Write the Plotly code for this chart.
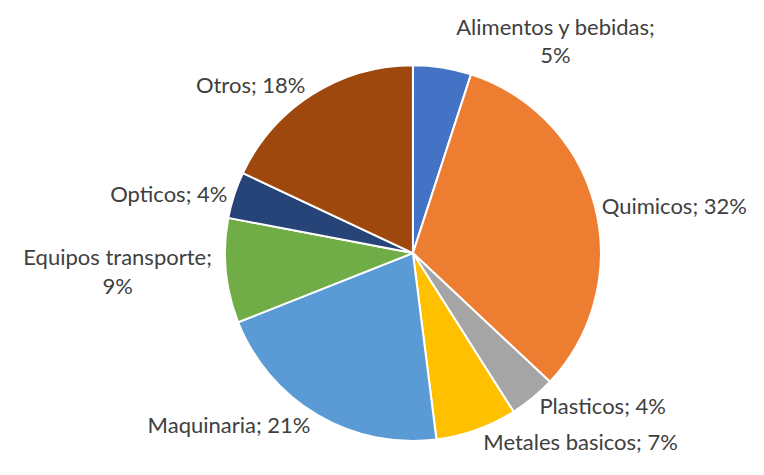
import plotly.graph_objects as go

categories = ["Alimentos y bebidas", "Quimicos", "Plasticos", "Metales basicos",
              "Maquinaria", "Equipos transporte", "Opticos", "Otros"]
values = [5, 32, 4, 7, 21, 9, 4, 18]
colors = ["#4472C4", "#ED7D31", "#A5A5A5", "#FFC000",
          "#5B9BD5", "#70AD47", "#264478", "#9E480E"]
wrap = [True, False, False, False, False, True, False, False]

texts = [f"{c};<br>{v}%" if w else f"{c}; {v}%" for c, v, w in zip(categories, values, wrap)]

fig = go.Figure(go.Pie(
    labels=categories,
    values=values,
    text=texts,
    textinfo="text",
    textposition="outside",
    sort=False,
    direction="clockwise",
    rotation=0,
    marker=dict(colors=colors, line=dict(color="white", width=2)),
    outsidetextfont=dict(family="Lato, Liberation Sans, sans-serif", size=22, color="#404040"),
    domain=dict(x=[0.284, 0.776], y=[0.088, 0.880]),
    showlegend=False,
    hoverinfo="label+percent",
))

fig.update_layout(
    width=764, height=475,
    margin=dict(l=0, r=0, t=0, b=0),
    paper_bgcolor="white",
    plot_bgcolor="white",
)

fig.write_html("out.html")
